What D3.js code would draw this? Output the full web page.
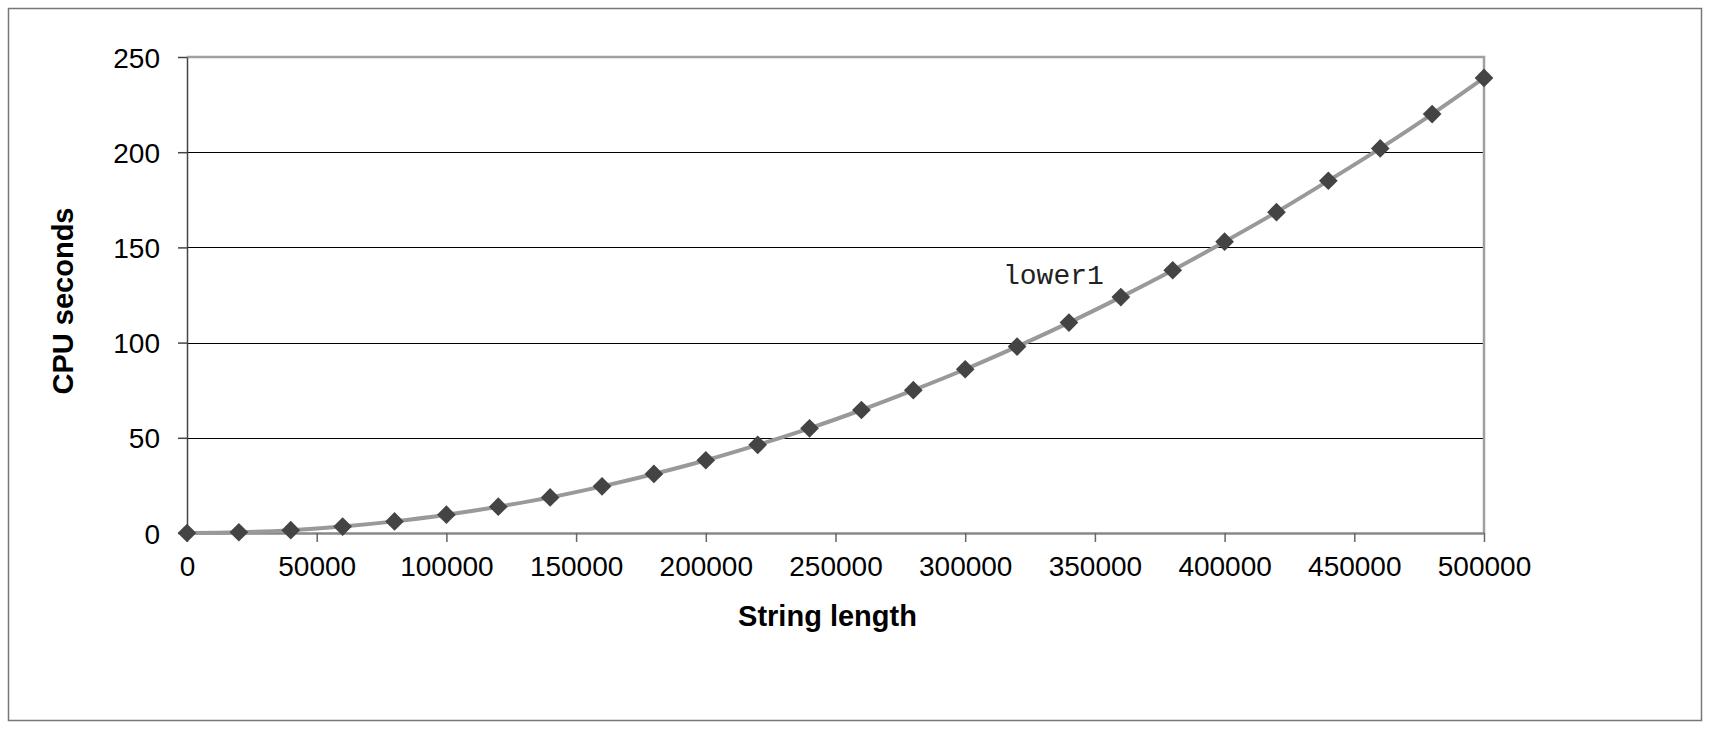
<!DOCTYPE html>
<html>
<head>
<meta charset="utf-8">
<script src="https://cdn.jsdelivr.net/npm/d3@7"></script>
<style>
	html, body { margin: 0; padding: 0; background: #fff; }
	svg { display: block; }
	.tick text { font-family: "Liberation Sans", Arial, sans-serif; font-size: 28px; fill: #000; }
</style>
</head>
<body>
<div id="chart-box"></div>
<script>
// DATA: string length vs CPU seconds
const stringLength = [0, 20000, 40000, 60000, 80000, 100000, 120000, 140000, 160000, 180000,
	200000, 220000, 240000, 260000, 280000, 300000, 320000, 340000, 360000, 380000,
	400000, 420000, 440000, 460000, 480000, 500000];
const cpuSeconds = [0, 0.4, 1.5, 3.4, 6.1, 9.6, 13.8, 18.7, 24.5, 31,
	38.2, 46.3, 55, 64.6, 75, 86, 97.9, 110.5, 123.9, 138,
	153, 168.5, 185, 202, 220, 239];
const xTicks = [0, 50000, 100000, 150000, 200000, 250000, 300000, 350000, 400000, 450000, 500000];
const yTicks = [0, 50, 100, 150, 200, 250];
const seriesName = "lower1";


// SVG DIMENSIONS
const width = 1710;
const height = 729;
const plot = { left: 187, right: 1484, top: 57, bottom: 533 };

const svg = d3.select("#chart-box")
	.append("svg")
	.attr("width", width)
	.attr("height", height);

// outer frame
svg.append("rect")
	.attr("x", 8.5).attr("y", 8.5)
	.attr("width", width - 17).attr("height", height - 17)
	.attr("fill", "#fff")
	.attr("stroke", "#777")
	.attr("stroke-width", 1.5);


// SCALES
const x = d3.scaleLinear().domain([0, 500000]).range([plot.left, plot.right]);
const y = d3.scaleLinear().domain([0, 250]).range([plot.bottom, plot.top]);


// GRIDLINES (50..200), the 250 line is the plot frame
svg.append("g")
	.selectAll("line")
	.data(yTicks.filter(d => d > 0 && d < 250))
	.enter()
	.append("line")
		.attr("x1", plot.left).attr("x2", plot.right)
		.attr("y1", d => Math.round(y(d)) + 0.5)
		.attr("y2", d => Math.round(y(d)) + 0.5)
		.attr("stroke", "#000")
		.attr("stroke-width", 1);

// plot frame: top and right
svg.append("path")
	.attr("d", `M${plot.left},${y(250)}H${plot.right}V${plot.bottom}`)
	.attr("fill", "none")
	.attr("stroke", "#a0a0a0")
	.attr("stroke-width", 2.5);


// AXES
const xAxis = svg.append("g")
	.attr("transform", `translate(0,${plot.bottom})`)
	.call(d3.axisBottom(x)
		.tickValues(xTicks)
		.tickFormat(d3.format("d"))
		.tickSize(9)
		.tickSizeOuter(0)
		.tickPadding(14));
xAxis.select(".domain").attr("stroke", "#888").attr("stroke-width", 2.5);
xAxis.selectAll(".tick line").attr("stroke", "#666").attr("stroke-width", 1.5);

const yAxis = svg.append("g")
	.attr("transform", `translate(${plot.left},0)`)
	.call(d3.axisLeft(y)
		.tickValues(yTicks)
		.tickFormat(d3.format("d"))
		.tickSize(9)
		.tickSizeOuter(0)
		.tickPadding(18));
yAxis.select(".domain").attr("stroke", "#444").attr("stroke-width", 1.5);
yAxis.selectAll(".tick line").attr("stroke", "#444").attr("stroke-width", 1.5);
yAxis.selectAll(".tick text").attr("dy", "0.36em");


// AXIS TITLES
svg.append("text")
	.attr("x", (plot.left + plot.right) / 2 - 8)
	.attr("y", 626)
	.attr("text-anchor", "middle")
	.style("font-family", "'Liberation Sans', Arial, sans-serif")
	.style("font-size", "29px")
	.style("font-weight", "bold")
	.text("String length");

svg.append("text")
	.attr("transform", `translate(73,301) rotate(-90)`)
	.attr("text-anchor", "middle")
	.style("font-family", "'Liberation Sans', Arial, sans-serif")
	.style("font-size", "29px")
	.style("font-weight", "bold")
	.text("CPU seconds");


// SERIES
const points = stringLength.map((d, i) => [d, cpuSeconds[i]]);

const line = d3.line()
	.x(d => x(d[0]))
	.y(d => y(d[1]))
	.curve(d3.curveCatmullRom);

svg.append("path")
	.datum(points)
	.attr("d", line)
	.attr("fill", "none")
	.attr("stroke", "#999")
	.attr("stroke-width", 4);

// diamond markers
const diamond = d3.symbol().type(d3.symbolSquare).size(175);
svg.append("g")
	.selectAll("path")
	.data(points)
	.enter()
	.append("path")
		.attr("d", diamond)
		.attr("transform", d => `translate(${x(d[0])},${y(d[1])}) rotate(45)`)
		.attr("fill", "#444");

// series label
svg.append("text")
	.attr("x", 1003)
	.attr("y", 284)
	.style("font-family", "'Liberation Mono', 'Courier New', monospace")
	.style("font-size", "28px")
	.attr("fill", "#222")
	.text(seriesName);
</script>
</body>
</html>
